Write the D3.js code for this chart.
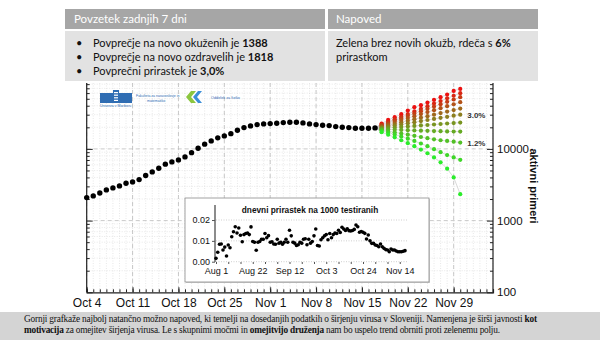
<!DOCTYPE html>
<html><head><meta charset="utf-8">
<script src="https://cdn.jsdelivr.net/npm/d3@7"></script>
<style>body{margin:0;background:#fff}svg{display:block}</style>
</head><body>
<svg id="c" width="605" height="340"></svg>
<script>
// ---------------- DATA ----------------
const activeStart = "2020-10-04";
const activeValues = [2094,2212,2432,2680,2858,3050,3325,3467,3732,4246,
  4776,5383,6124,6590,7025,7733,8872,10230,11640,12930,
  14260,15180,16330,18230,19820,20940,21830,22330,22540,22820,
  23270,23560,23560,23060,22330,21830,21410,21150,20470,20080,
  19820,19450,19450,19450,19630];

const forecastStart = "2020-11-18";
const forecastRates = ["6.0%","5.4%","4.8%","4.2%","3.6%","3.0%","2.4%","1.8%","1.2%","0.6%","0.0%"];
const forecastRows = [
  [22540,25380,27680,30480,34200,38160,40660,44230,48230,52590,57170,64370,68660],
  [21980,23880,26000,28250,30690,33340,36310,39450,42850,46560,50700,55080,59840],
  [21430,23120,24890,26850,28910,31190,33570,36220,38990,42070,45290,48870,52600],
  [20840,22230,23660,25230,26920,28640,30550,32580,34670,36980,39450,41980,44770],
  [20320,21330,22390,23550,24720,25940,27230,28580,29990,31550,33110,34750,36480],
  [19820,20510,21230,21980,22750,23550,24430,25290,26180,27100,28050,29040,30060],
  [19320,19630,19950,20230,20560,20890,21230,21530,21880,22230,22590,22910,23280],
  [18840,18700,18550,18400,18250,18100,17950,17850,17750,17650,17550,17480,17420],
  [18370,17700,17050,16400,15800,15200,14650,14100,13600,13200,12900,12600,12250],
  [17900,16900,15900,14900,13900,12900,11900,10900,9900,9000,8200,7600,7030],
  [17100,15800,14500,13200,12000,10900,9800,8700,7600,6500,5300,4000,2335]
];
const rateLabels = [{rate:"3.0%", text:"3.0%"}, {rate:"1.2%", text:"1.2%"}];

const xTickLabels = ["Oct 4","Oct 11","Oct 18","Oct 25","Nov 1","Nov 8","Nov 15","Nov 22","Nov 29"];
const xDomain = ["2020-10-04","2020-12-05"];
const yTickValues = [100,1000,10000];
const yDomain = [100,100000];
const yLabel = "aktivni primeri";

const insetTitle = "dnevni prirastek na 1000 testiranih";
const insetStart = "2020-08-01";
const insetValues = [0.0016,0.0045,0.0084,0.0085,0.0056,0.0070,0.0027,0.0080,0.0067,0.0120,
  0.0144,0.0168,0.0138,0.0162,0.0127,0.0096,0.0130,0.0135,0.0138,0.0130,
  0.0167,0.0097,0.0093,0.0055,0.0093,0.0097,0.0108,0.0108,0.0135,0.0115,
  0.0125,0.0093,0.0096,0.0085,0.0084,0.0108,0.0089,0.0093,0.0084,0.0093,
  0.0108,0.0093,0.0151,0.0124,0.0093,0.0089,0.0078,0.0081,0.0093,0.0089,
  0.0108,0.0110,0.0081,0.0108,0.0089,0.0097,0.0124,0.0157,0.0078,0.0075,
  0.0105,0.0115,0.0124,0.0130,0.0105,0.0135,0.0115,0.0130,0.0138,0.0135,
  0.0151,0.0140,0.0165,0.0157,0.0150,0.0158,0.0149,0.0147,0.0150,0.0155,
  0.0176,0.0168,0.0141,0.0145,0.0141,0.0136,0.0109,0.0128,0.0100,0.0088,
  0.0088,0.0080,0.0078,0.0072,0.0085,0.0072,0.0064,0.0058,0.0056,0.0048,
  0.0061,0.0056,0.0056,0.0051,0.0048,0.0048,0.0048,0.0050,0.0053];
const insetXTickLabels = ["Aug 1","Aug 22","Sep 12","Oct 3","Oct 24","Nov 14"];
const insetDomain = ["2020-08-01","2020-11-19"];
const insetYTicks = [0,0.01,0.02];

const headerLeft = "Povzetek zadnjih 7 dni";
const headerRight = "Napoved";
const summaryLines = [
  ["Povprečje na novo okuženih je ", "1388"],
  ["Povprečje na novo ozdravelih je ", "1818"],
  ["Povprečni prirastek je ", "3,0%"]
];
const forecastText = [["Zelena brez novih okužb, rdeča s ", "6%"], ["prirastkom", ""]];
const captionLines = [
  [["Gornji grafkaže najbolj natančno možno napoved, ki temelji na dosedanjih podatkih o širjenju virusa v Sloveniji. Namenjena je širši javnosti ",false],["kot",true]],
  [["motivacija",true],[" za omejitev  širjenja virusa. Le s skupnimi močmi in ",false],["omejitvijo druženja",true],["  nam  bo uspelo trend obrniti proti zelenemu polju.",false]]
];

// ---------------- DRAW ----------------
const svg = d3.select("#c");
const pd = d3.timeParse("%Y-%m-%d");
const pl = d3.timeParse("%b %d %Y");

const x = d3.scaleTime().domain(xDomain.map(pd)).range([86.7, 493]);
const y = d3.scaleLog().domain(yDomain).range([292.3, 77.2]);
const plotTop = 83;

const g = svg.append("g");
// minor grid
const days = d3.timeDay.range(x.domain()[0], d3.timeDay.offset(x.domain()[1],1));
g.selectAll(".vmin").data(days).join("line")
  .attr("x1", d=>x(d)).attr("x2", d=>x(d)).attr("y1", plotTop).attr("y2", 292.3)
  .attr("stroke","#d9d9d9").attr("stroke-width",0.6).attr("stroke-dasharray","1,1.5");
const minorY = [];
[100,1000,10000].forEach(b=>{for(let k=2;k<10;k++) minorY.push(b*k);});
g.selectAll(".hmin").data(minorY.filter(v=>y(v)>=plotTop)).join("line")
  .attr("x1",86.7).attr("x2",493).attr("y1",d=>y(d)).attr("y2",d=>y(d))
  .attr("stroke","#d9d9d9").attr("stroke-width",0.6).attr("stroke-dasharray","1,1.5");
// major grid
const weekDates = xTickLabels.map(s=>pl(s+" 2020"));
g.selectAll(".vmaj").data(weekDates).join("line")
  .attr("x1", d=>x(d)).attr("x2", d=>x(d)).attr("y1", plotTop).attr("y2", 292.3)
  .attr("stroke","#bdbdbd").attr("stroke-width",0.8).attr("stroke-dasharray","4,3");
g.selectAll(".hmaj").data(yTickValues.slice(1)).join("line")
  .attr("x1",86.7).attr("x2",493).attr("y1",d=>y(d)).attr("y2",d=>y(d))
  .attr("stroke","#bdbdbd").attr("stroke-width",0.8).attr("stroke-dasharray","4,3");

// axes
const axisCol = "#222";
const xAxis = d3.axisBottom(x).tickValues(days).tickSize(-3).tickFormat("");
const gx = svg.append("g").attr("transform","translate(0,292.3)").call(xAxis);
gx.select(".domain").attr("stroke",axisCol).attr("stroke-width",1.2);
gx.selectAll(".tick line").attr("stroke",axisCol);
const gx2 = svg.append("g").attr("transform","translate(0,292.3)")
  .call(d3.axisBottom(x).tickValues(weekDates).tickSize(-5).tickPadding(6).tickFormat((d,i)=>xTickLabels[i]));
gx2.select(".domain").remove();
gx2.selectAll(".tick line").attr("stroke",axisCol);
gx2.selectAll("text").attr("font-family","Liberation Sans, Arial").attr("font-size",12).attr("fill","#111");

const allY = yTickValues.concat(minorY).filter(v=>y(v)>=plotTop);
const gl = svg.append("g").attr("transform","translate(86.7,0)")
  .call(d3.axisLeft(y).tickValues(allY).tickSize(-3).tickFormat(""));
gl.selectAll(".tick line").attr("stroke",axisCol).attr("x2",d=>yTickValues.includes(d)?6:3);
gl.select(".domain").attr("stroke",axisCol).attr("stroke-width",1.2).attr("d",`M0,${plotTop}V292.3`);
const gr = svg.append("g").attr("transform","translate(493,0)")
  .call(d3.axisRight(y).tickValues(allY).tickSize(0).tickPadding(4)
     .tickFormat(d=>yTickValues.includes(d)?String(d):""));
gr.selectAll(".tick line").attr("stroke",axisCol).attr("x2",d=>yTickValues.includes(d)?-6:-3);
gr.select(".domain").attr("stroke",axisCol).attr("stroke-width",1.2).attr("d",`M0,${plotTop}V292.3`);
gr.selectAll("text").attr("font-family","Liberation Sans, Arial").attr("font-size",11.5).attr("fill","#111");
svg.append("text").attr("transform","translate(530,186) rotate(90)").attr("text-anchor","middle")
  .attr("font-family","Liberation Sans, Arial").attr("font-weight","bold").attr("font-size",11)
  .attr("fill","#111").text(yLabel);

// forecast fan
const fDates = forecastRows[0].map((_,i)=>d3.timeDay.offset(pd(forecastStart), i));
const lastDate = d3.timeDay.offset(pd(activeStart), activeValues.length-1);
const lastVal = activeValues[activeValues.length-1];
const colorOf = d3.scaleLinear().domain([0, forecastRows.length-1]).range(["#ec1010","#2bec2b"]).interpolate(d3.interpolateRgb);
const fl = svg.append("g");
forecastRows.forEach((row,k)=>{
  const pts = [[lastDate,lastVal]].concat(row.map((v,i)=>[fDates[i],v]));
  fl.append("path").attr("d", d3.line().x(d=>x(d[0])).y(d=>y(d[1]))(pts))
    .attr("fill","none").attr("stroke","#c8c8c8").attr("stroke-width",0.7);
});
forecastRows.forEach((row,k)=>{
  fl.selectAll(null).data(row).join("circle")
    .attr("cx",(d,i)=>x(fDates[i])).attr("cy",d=>y(d)).attr("r",2.1).attr("fill",colorOf(k));
});
rateLabels.forEach(r=>{
  const k = forecastRates.indexOf(r.rate);
  const row = forecastRows[k];
  svg.append("text").attr("x", x(fDates[row.length-1])+7).attr("y", y(row[row.length-1])+3)
    .attr("font-family","Liberation Sans, Arial").attr("font-weight","bold").attr("font-size",8)
    .attr("fill","#333").text(r.text);
});

svg.append("g").selectAll("circle").data(activeValues).join("circle")
  .attr("cx",(d,i)=>x(d3.timeDay.offset(pd(activeStart),i))).attr("cy",d=>y(d))
  .attr("r",2.7).attr("fill","#000");

// ---------------- INSET ----------------
const ig = svg.append("g");
ig.append("rect").attr("x",186).attr("y",199).attr("width",244).attr("height",84).attr("fill","#d0d0d0");
ig.append("rect").attr("x",185).attr("y",198).attr("width",244).attr("height",84)
  .attr("fill","#fff").attr("stroke","#8a8a8a").attr("stroke-width",0.8);
const xi = d3.scaleTime().domain(insetDomain.map(pd)).range([216, 408.5]);
const yi = d3.scaleLinear().domain([0,0.0275]).range([261.7, 204.4]);
ig.selectAll(".ig").data(insetYTicks).join("line")
  .attr("x1",216).attr("x2",408.5).attr("y1",d=>yi(d)).attr("y2",d=>yi(d))
  .attr("stroke","#bbb").attr("stroke-width",0.7).attr("stroke-dasharray","1,1.5");
const giy = ig.append("g").attr("transform","translate(215,0)")
  .call(d3.axisLeft(yi).tickValues(insetYTicks).tickSize(3).tickPadding(2).tickFormat(d3.format(".2f")));
giy.select(".domain").attr("stroke","#8c8c8c").attr("stroke-width",2).attr("d","M0,205V262");
giy.selectAll(".tick line").attr("stroke","#555");
giy.selectAll("text").attr("font-family","Liberation Sans, Arial").attr("font-size",9).attr("fill","#111");
const iTickDates = insetXTickLabels.map(s=>pl(s+" 2020"));
const gix = ig.append("g").attr("transform","translate(0,262)")
  .call(d3.axisBottom(xi).tickValues(d3.range(0,16).map(i=>d3.timeDay.offset(pd(insetStart),i*7))).tickSize(2).tickFormat(""));
gix.select(".domain").remove();
gix.selectAll(".tick line").attr("stroke","#555");
const gix2 = ig.append("g").attr("transform","translate(0,262)")
  .call(d3.axisBottom(xi).tickValues(iTickDates).tickSize(0).tickPadding(6).tickFormat((d,i)=>insetXTickLabels[i]));
gix2.select(".domain").remove();
gix2.selectAll("text").attr("font-family","Liberation Sans, Arial").attr("font-size",9).attr("fill","#111");
ig.append("text").attr("x",310).attr("y",213).attr("text-anchor","middle")
  .attr("font-family","Liberation Sans, Arial").attr("font-weight","bold").attr("font-size",8.3)
  .attr("fill","#111").text(insetTitle);
ig.selectAll(".ip").data(insetValues).join("circle")
  .attr("cx",(d,i)=>xi(d3.timeDay.offset(pd(insetStart),i))).attr("cy",d=>yi(d))
  .attr("r",1.8).attr("fill","#000");

// ---------------- TABLE ----------------
const tb = svg.append("g");
tb.append("rect").attr("x",65).attr("y",9).attr("width",260).attr("height",20).attr("fill","#a6a6a6");
tb.append("rect").attr("x",328).attr("y",9).attr("width",210).attr("height",20).attr("fill","#a6a6a6");
tb.append("rect").attr("x",65).attr("y",31).attr("width",260).attr("height",50).attr("fill","#e2e2e2");
tb.append("rect").attr("x",328).attr("y",31).attr("width",210).attr("height",50).attr("fill","#e2e2e2");
const ff = "Lato, 'Open Sans', sans-serif";
tb.append("text").attr("x",74).attr("y",23).attr("font-family",ff).attr("font-size",11.5).attr("fill","#fff").text(headerLeft);
tb.append("text").attr("x",336).attr("y",23).attr("font-family",ff).attr("font-size",11.5).attr("fill","#fff").text(headerRight);
summaryLines.forEach((l,i)=>{
  const yy = 47 + i*14;
  tb.append("text").attr("x",76).attr("y",yy).attr("font-family",ff).attr("font-size",11).attr("fill","#111").text("•");
  const t = tb.append("text").attr("x",93).attr("y",yy).attr("font-family",ff).attr("font-size",11).attr("fill","#111");
  t.append("tspan").text(l[0]);
  t.append("tspan").attr("font-weight","bold").text(l[1]);
});
forecastText.forEach((l,i)=>{
  const t = tb.append("text").attr("x",336).attr("y",47+i*14).attr("font-family",ff).attr("font-size",11).attr("fill","#111");
  t.append("tspan").text(l[0]);
  t.append("tspan").attr("font-weight","bold").text(l[1]);
});

// ---------------- LOGOS ----------------
const lg = svg.append("g");
lg.append("rect").attr("x",100).attr("y",93).attr("width",32).attr("height",10).attr("fill","#2f6db3");
lg.append("rect").attr("x",113).attr("y",90).attr("width",6).attr("height",13).attr("fill","#2f6db3");
for(let i=0;i<4;i++) lg.append("rect").attr("x",114).attr("y",92+i*2.6).attr("width",4).attr("height",1.2).attr("fill","#fff");
lg.append("text").attr("x",100).attr("y",107).attr("font-family","Liberation Sans").attr("font-size",3.5).attr("fill","#2f6db3").text("Univerza v Mariboru");
lg.append("text").attr("x",136).attr("y",97).attr("font-family","Liberation Sans").attr("font-size",3.5).attr("fill","#2f6db3").text("Fakulteta za naravoslovje in");
lg.append("text").attr("x",147).attr("y",102).attr("font-family","Liberation Sans").attr("font-size",3.5).attr("fill","#2f6db3").text("matematiko");
lg.append("path").attr("d","M186,97 l5,-6 h5 l-5,6 l5,6 h-5z").attr("fill","#8cc63f");
lg.append("path").attr("d","M193,97 l5,-6 h4 l-5,6 l5,6 h-4z").attr("fill","#3b8ed8");
lg.append("text").attr("x",211).attr("y",99).attr("font-family","Liberation Sans").attr("font-size",3.8).attr("fill","#2f6db3").text("Oddelek za fiziko");

// ---------------- CAPTION ----------------
svg.append("rect").attr("x",0).attr("y",312).attr("width",600).attr("height",28).attr("fill","#d4d4d4");
const capW = [513, 476];
captionLines.forEach((line,i)=>{
  const t = svg.append("text").attr("x",24).attr("y",322+i*11).attr("font-family","Liberation Serif, Times New Roman, serif")
    .attr("font-size",9.3).attr("fill","#111").attr("textLength",capW[i]).attr("lengthAdjust","spacing");
  line.forEach(p=>t.append("tspan").attr("font-weight",p[1]?"bold":"normal").text(p[0]));
});
</script>
</body></html>
